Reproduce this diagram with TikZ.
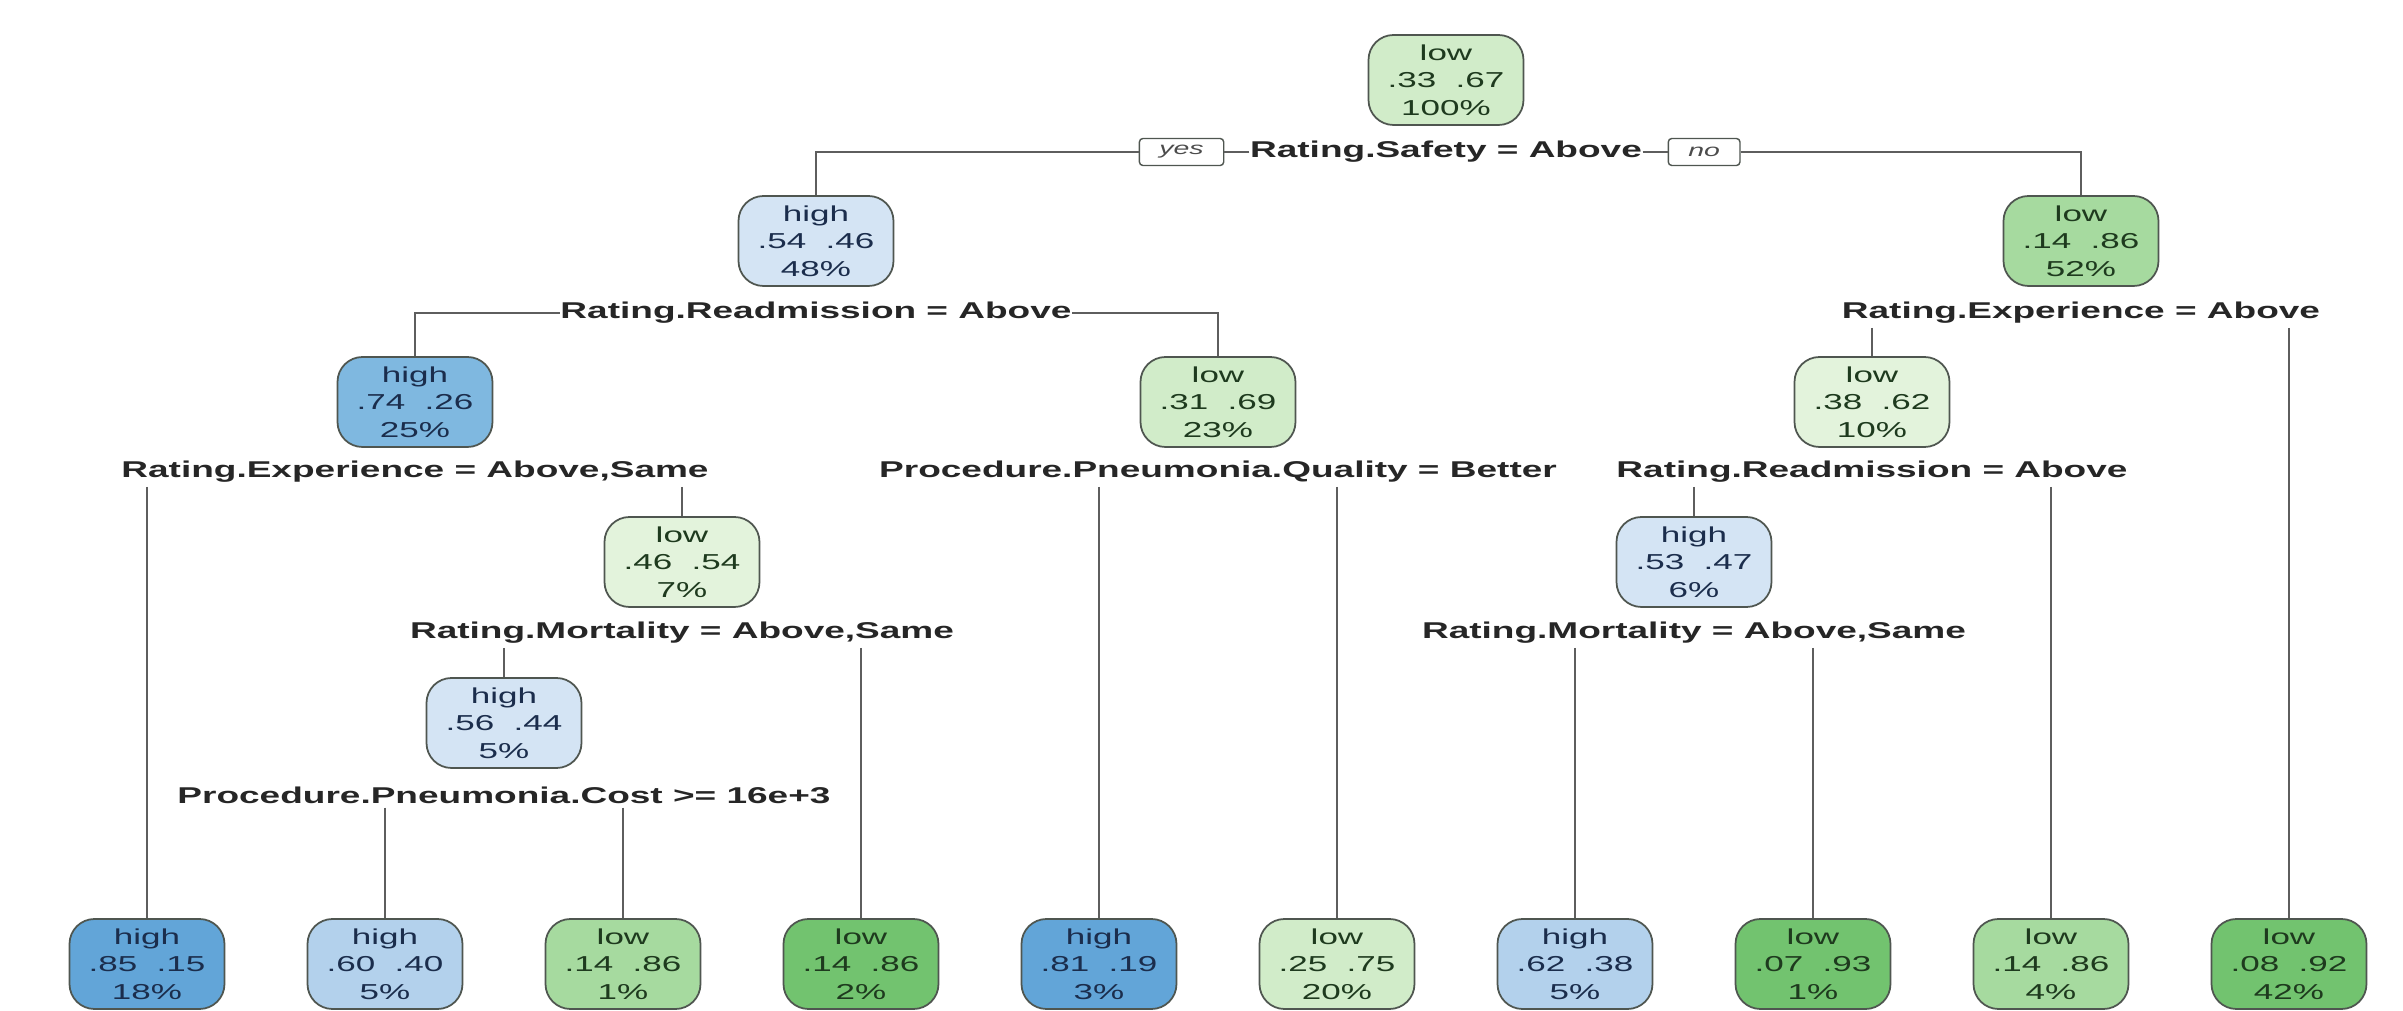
\documentclass[tikz,border=0pt]{standalone}
\usepackage{fontspec}
\newfontfamily\treefont{Liberation Sans}[FakeStretch=1.62]
\usetikzlibrary{positioning}

\definecolor{blueA}{HTML}{D4E4F4}
\definecolor{blueB}{HTML}{B3D1EC}
\definecolor{blueC}{HTML}{7FB8E0}
\definecolor{blueD}{HTML}{62A5D8}
\definecolor{greenA}{HTML}{E3F3DC}
\definecolor{greenB}{HTML}{D1ECC9}
\definecolor{greenC}{HTML}{A6DA9F}
\definecolor{greenD}{HTML}{72C36F}
\definecolor{hitext}{HTML}{1B2D4C}
\definecolor{lotext}{HTML}{1E3A1E}
\definecolor{boxedge}{HTML}{4F5650}
\definecolor{branchgray}{HTML}{5E5E5E}

\tikzset{
  treenode/.style={draw=boxedge, line width=0.5pt, rounded corners=0.25cm,
    minimum width=1.55cm, minimum height=0.9cm, inner sep=0pt, align=center,
    font=\treefont\fontsize{6.15}{7.8}\selectfont},
  hinode/.style={treenode, text=hitext},
  lonode/.style={treenode, text=lotext},
  splitlabel/.style={inner xsep=0pt, inner ysep=1pt, text=black!85,
    font=\treefont\fontsize{6.5}{7.8}\selectfont\bfseries},
  yesno/.style={draw=boxedge, fill=white, rounded corners=1pt, line width=0.4pt,
    minimum height=0.27cm, inner xsep=0.2cm, inner ysep=0pt, text=black!70,
    font=\treefont\fontsize{5}{6}\selectfont\itshape},
  branch/.style={draw=branchgray, line width=0.6pt}
}

\begin{document}
\begin{tikzpicture}
        \useasboundingbox (0,0) rectangle (24.03,-10.11);
        % rows of boxes and of split labels
        \newcommand{\figtreerowa}{-0.80}
        \newcommand{\figtreerowb}{-2.41}
        \newcommand{\figtreerowc}{-4.02}
        \newcommand{\figtreerowd}{-5.62}
        \newcommand{\figtreerowe}{-7.23}
        \newcommand{\figtreerowleaf}{-9.64}
        \newcommand{\figtreespla}{-1.52}
        \newcommand{\figtreesplb}{-3.13}
        \newcommand{\figtreesplc}{-4.72}
        \newcommand{\figtreespld}{-6.33}
        \newcommand{\figtreesple}{-7.95}
        % inner nodes
        \node[lonode, fill=greenB] (root) at (14.46,\figtreerowa) {low\\.33\ \ .67\\100\%};
        \node[splitlabel] (sproot) at (14.46,\figtreespla) {Rating.Safety = Above};
        \node[yesno, left=0.25cm of sproot] (yes) {yes};
        \node[yesno, right=0.25cm of sproot] (no) {no};
        \node[hinode, fill=blueA] (n48) at (8.16,\figtreerowb) {high\\.54\ \ .46\\48\%};
        \node[splitlabel] (sp48) at (8.16,\figtreesplb) {Rating.Readmission = Above};
        \node[lonode, fill=greenC] (n52) at (20.81,\figtreerowb) {low\\.14\ \ .86\\52\%};
        \node[splitlabel] (sp52) at (20.81,\figtreesplb) {Rating.Experience = Above};
        \node[hinode, fill=blueC] (n25) at (4.15,\figtreerowc) {high\\.74\ \ .26\\25\%};
        \node[splitlabel] (sp25) at (4.15,\figtreesplc) {Rating.Experience = Above,Same};
        \node[lonode, fill=greenB] (n23) at (12.18,\figtreerowc) {low\\.31\ \ .69\\23\%};
        \node[splitlabel] (sp23) at (12.18,\figtreesplc) {Procedure.Pneumonia.Quality = Better};
        \node[lonode, fill=greenA] (n10) at (18.72,\figtreerowc) {low\\.38\ \ .62\\10\%};
        \node[splitlabel] (sp10) at (18.72,\figtreesplc) {Rating.Readmission = Above};
        \node[lonode, fill=greenA] (n7) at (6.82,\figtreerowd) {low\\.46\ \ .54\\7\%};
        \node[splitlabel] (sp7) at (6.82,\figtreespld) {Rating.Mortality = Above,Same};
        \node[hinode, fill=blueA] (n6) at (16.94,\figtreerowd) {high\\.53\ \ .47\\6\%};
        \node[splitlabel] (sp6) at (16.94,\figtreespld) {Rating.Mortality = Above,Same};
        \node[hinode, fill=blueA] (n5) at (5.04,\figtreerowe) {high\\.56\ \ .44\\5\%};
        \node[splitlabel] (sp5) at (5.04,\figtreesple) {Procedure.Pneumonia.Cost >= 16e+3};
        % leaves
        \node[hinode, fill=blueD] (lf18) at (1.47,\figtreerowleaf) {high\\.85\ \ .15\\18\%};
        \node[hinode, fill=blueB] (lf5a) at (3.85,\figtreerowleaf) {high\\.60\ \ .40\\5\%};
        \node[lonode, fill=greenC] (lf1a) at (6.23,\figtreerowleaf) {low\\.14\ \ .86\\1\%};
        \node[lonode, fill=greenD] (lf2) at (8.61,\figtreerowleaf) {low\\.14\ \ .86\\2\%};
        \node[hinode, fill=blueD] (lf3) at (10.99,\figtreerowleaf) {high\\.81\ \ .19\\3\%};
        \node[lonode, fill=greenB] (lf20) at (13.37,\figtreerowleaf) {low\\.25\ \ .75\\20\%};
        \node[hinode, fill=blueB] (lf5b) at (15.75,\figtreerowleaf) {high\\.62\ \ .38\\5\%};
        \node[lonode, fill=greenD] (lf1b) at (18.13,\figtreerowleaf) {low\\.07\ \ .93\\1\%};
        \node[lonode, fill=greenC] (lf4) at (20.51,\figtreerowleaf) {low\\.14\ \ .86\\4\%};
        \node[lonode, fill=greenD] (lf42) at (22.89,\figtreerowleaf) {low\\.08\ \ .92\\42\%};
        % branches
        \draw[branch] (sproot.west) -- (yes.east);
        \draw[branch] (yes.west) -| (n48.north);
        \draw[branch] (sproot.east) -- (no.west);
        \draw[branch] (no.east) -| (n52.north);
        \draw[branch] (sp48.west) -| (n25.north);
        \draw[branch] (sp48.east) -| (n23.north);
        \draw[branch] (sp52.south -| n10.north) -- (n10.north);
        \draw[branch] (sp52.south -| lf42.north) -- (lf42.north);
        \draw[branch] (sp25.south -| lf18.north) -- (lf18.north);
        \draw[branch] (sp25.south -| n7.north) -- (n7.north);
        \draw[branch] (sp23.south -| lf3.north) -- (lf3.north);
        \draw[branch] (sp23.south -| lf20.north) -- (lf20.north);
        \draw[branch] (sp10.south -| n6.north) -- (n6.north);
        \draw[branch] (sp10.south -| lf4.north) -- (lf4.north);
        \draw[branch] (sp7.south -| n5.north) -- (n5.north);
        \draw[branch] (sp7.south -| lf2.north) -- (lf2.north);
        \draw[branch] (sp6.south -| lf5b.north) -- (lf5b.north);
        \draw[branch] (sp6.south -| lf1b.north) -- (lf1b.north);
        \draw[branch] (sp5.south -| lf5a.north) -- (lf5a.north);
        \draw[branch] (sp5.south -| lf1a.north) -- (lf1a.north);
\end{tikzpicture}
\end{document}
